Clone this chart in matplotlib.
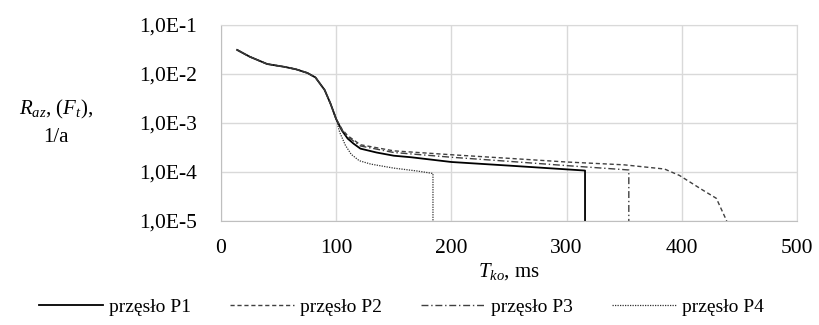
import matplotlib
matplotlib.use("Agg")
import matplotlib.pyplot as plt
from matplotlib.ticker import FixedLocator, FuncFormatter, NullLocator

plt.rcParams['font.family'] = ['Liberation Serif', 'DejaVu Serif']
plt.rcParams['mathtext.fontset'] = 'custom'
plt.rcParams['mathtext.rm'] = 'Liberation Serif'
plt.rcParams['mathtext.it'] = 'Liberation Serif:italic'

# data (T_ko in ms, R_az in 1/a)
head_x = [14, 25, 40, 55, 65, 75, 82, 90, 95, 100]
head_y = [3.1e-2, 2.25e-2, 1.6e-2, 1.4e-2, 1.25e-2, 1.05e-2, 8.5e-3, 4.7e-3, 2.5e-3, 1.2e-3]

p1_x = head_x + [105, 110, 115, 121, 135, 150, 165, 200, 250, 316, 316]
p1_y = head_y + [7e-4, 4.8e-4, 3.8e-4, 3.0e-4, 2.5e-4, 2.15e-4, 2.0e-4, 1.6e-4, 1.35e-4, 1.07e-4, 1e-5]

p2_x = head_x + [105, 110, 121, 150, 200, 250, 300, 350, 385, 398, 418, 430, 439]
p2_y = head_y + [7.5e-4, 5.5e-4, 3.6e-4, 2.7e-4, 2.25e-4, 1.9e-4, 1.6e-4, 1.4e-4, 1.15e-4, 8.5e-5, 4.3e-5, 2.9e-5, 1e-5]

p3_x = head_x + [105, 110, 121, 150, 200, 250, 300, 354, 354]
p3_y = head_y + [7.2e-4, 5.2e-4, 3.4e-4, 2.5e-4, 2.0e-4, 1.65e-4, 1.35e-4, 1.1e-4, 1e-5]

p4_x = head_x + [103, 108, 113, 120, 130, 150, 170, 182, 184, 184]
p4_y = head_y + [6.5e-4, 3.5e-4, 2.3e-4, 1.7e-4, 1.45e-4, 1.2e-4, 1.05e-4, 9.5e-5, 9.3e-5, 1e-5]

labels = ['przęsło P1', 'przęsło P2', 'przęsło P3', 'przęsło P4']
x_ticks = [0, 100, 200, 300, 400, 500]
y_ticks = [1e-5, 1e-4, 1e-3, 1e-2, 1e-1]
y_ticklabels = ['1,0E-5', '1,0E-4', '1,0E-3', '1,0E-2', '1,0E-1']

fig = plt.figure(figsize=(8.19, 3.25), dpi=100)
ax = fig.add_axes([221/819, 1 - 221/325, (797-221)/819, (221-25)/325])

ax.plot(p1_x, p1_y, color='black', lw=1.3, ls='-', label=labels[0])
ax.plot(p2_x, p2_y, color='#404040', lw=1.0, ls=(0, (3, 2)), label=labels[1])
ax.plot(p3_x, p3_y, color='#404040', lw=1.0, ls=(0, (5, 2, 1, 2)), label=labels[2])
ax.plot(p4_x, p4_y, color='#303030', lw=0.9, ls=(0, (1, 1)), label=labels[3])

ax.set_yscale('log')
ax.set_xlim(0, 500)
ax.set_ylim(1e-5, 1e-1)
ax.xaxis.set_major_locator(FixedLocator(x_ticks))
ax.yaxis.set_major_locator(FixedLocator(y_ticks))
ax.yaxis.set_minor_locator(NullLocator())
ax.yaxis.set_major_formatter(FuncFormatter(lambda v, p: y_ticklabels[y_ticks.index(min(y_ticks, key=lambda t: abs(t - v)))]))
ax.grid(True, which='major', color='#d9d9d9', lw=1.0)
ax.set_axisbelow(True)
for s in ax.spines.values():
    s.set_color('#d9d9d9')
ax.spines['bottom'].set_color('#bfbfbf')
ax.spines['left'].set_color('#bfbfbf')
ax.tick_params(length=0, labelsize=15.5)
ax.tick_params(axis='y', pad=17)
ax.tick_params(axis='x', pad=13)

fig.text(0.068, 0.662, r'$R_{az}$, $(F_t)$,', ha='center', va='center', fontsize=15)
fig.text(0.068, 0.578, '1/a', ha='center', va='center', fontsize=15)
fig.text(0.622, 0.163, r'$T_{ko}$, ms', ha='center', va='center', fontsize=15)

fig.legend(loc='center', bbox_to_anchor=(0.49, 0.055), ncol=4, frameon=False,
           fontsize=14, handlelength=3.3, columnspacing=2.0, handletextpad=0.3)

fig.savefig('out.png', dpi=100)
